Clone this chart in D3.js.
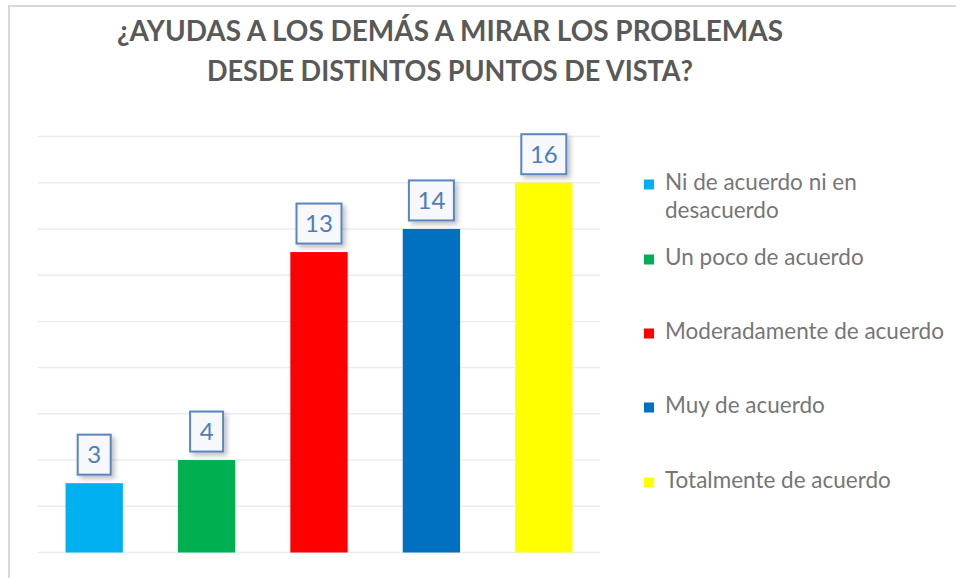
<!DOCTYPE html>
<html><head><meta charset="utf-8">
<script src="https://cdn.jsdelivr.net/npm/d3@7"></script>
<style>body{margin:0;background:#fff}svg{display:block}</style>
</head><body>
<svg id="c" width="956" height="578"></svg>
<script>
const categories = ["Ni de acuerdo ni en desacuerdo","Un poco de acuerdo","Moderadamente de acuerdo","Muy de acuerdo","Totalmente de acuerdo"];
const values = [3, 4, 13, 14, 16];
const colors = ["#00b0f0","#00b050","#ff0000","#0070c0","#ffff00"];
const yTicks = [0,2,4,6,8,10,12,14,16,18];
const titleLines = ["¿AYUDAS A LOS DEMÁS A MIRAR LOS PROBLEMAS","DESDE DISTINTOS PUNTOS DE VISTA?"];
const legendLines = [["Ni de acuerdo ni en","desacuerdo"],["Un poco de acuerdo"],["Moderadamente de acuerdo"],["Muy de acuerdo"],["Totalmente de acuerdo"]];

const svg = d3.select("#c");
const FONT = "Lato, 'Open Sans', 'Noto Sans', sans-serif";

// frame
svg.append("line").attr("x1",9).attr("x2",9).attr("y1",6).attr("y2",578).attr("stroke","#d9d9d9").attr("stroke-width",2);
svg.append("line").attr("x1",8).attr("x2",956).attr("y1",6).attr("y2",6).attr("stroke","#d9d9d9").attr("stroke-width",2);

const defs = svg.append("defs");
const f = defs.append("filter").attr("id","sh").attr("x","-30%").attr("y","-30%").attr("width","170%").attr("height","170%");
f.append("feDropShadow").attr("dx",3).attr("dy",3).attr("stdDeviation",2.5).attr("flood-color","#000").attr("flood-opacity",0.25);

// title
const titleWidths = [666, 486];
const titleBase = [41, 81];
titleLines.forEach((t,i)=>{
  svg.append("text").attr("x",450).attr("y",titleBase[i]).attr("text-anchor","middle")
    .attr("font-family",FONT).attr("font-weight","bold").attr("font-size",28.5).attr("fill","#595959")
    .attr("textLength",titleWidths[i]).attr("lengthAdjust","spacingAndGlyphs").text(t);
});

const x = d3.scaleBand().domain(categories).range([38,600]).paddingInner(0.49).paddingOuter(0.245);
const y = d3.scaleLinear().domain([0,18]).range([552.5,136.5]);

// grid
svg.append("g").selectAll("line").data(yTicks).join("line")
  .attr("x1",38).attr("x2",600).attr("y1",d=>y(d)).attr("y2",d=>y(d))
  .attr("stroke","#ececec").attr("stroke-width",1.5);

// bars
svg.append("g").selectAll("rect").data(values).join("rect")
  .attr("x",(d,i)=>x(categories[i])).attr("width",x.bandwidth())
  .attr("y",d=>y(d)).attr("height",d=>y(0)-y(d)).attr("fill",(d,i)=>colors[i]);

// labels
const lg = svg.append("g");
values.forEach((v,i)=>{
  const cx = x(categories[i]) + x.bandwidth()/2;
  const w = String(v).length === 1 ? 33 : 45;
  const h = 40;
  const bottom = y(v) - 8.5;
  lg.append("rect").attr("x",cx-w/2).attr("y",bottom-h).attr("width",w).attr("height",h)
    .attr("fill","#f6f8fc").attr("stroke","#5a85c0").attr("stroke-width",2).attr("filter","url(#sh)");
  lg.append("text").attr("x",cx).attr("y",bottom-h/2+8.5).attr("text-anchor","middle")
    .attr("font-family",FONT).attr("font-size",24).attr("fill","#4f7dbb").text(v);
});

// legend
const legY = [184.5, 259.5, 333.5, 407.5, 482.5];
const leg = svg.append("g");
legendLines.forEach((lines,i)=>{
  leg.append("rect").attr("x",644).attr("y",legY[i]-5).attr("width",10).attr("height",10).attr("fill",colors[i]);
  lines.forEach((t,j)=>{
    leg.append("text").attr("x",665).attr("y",legY[i]+5+j*28).attr("font-family",FONT)
      .attr("font-size",20).attr("fill","#767676").attr("class","lt").text(t);
  });
});
// fit legend font so "Moderadamente de acuerdo" is ~279px
const ref = leg.selectAll("text.lt").filter(function(){return this.textContent==="Moderadamente de acuerdo";}).node();
const k = 279 / ref.getComputedTextLength();
leg.selectAll("text.lt").attr("font-size",20*k);
</script>
</body></html>
